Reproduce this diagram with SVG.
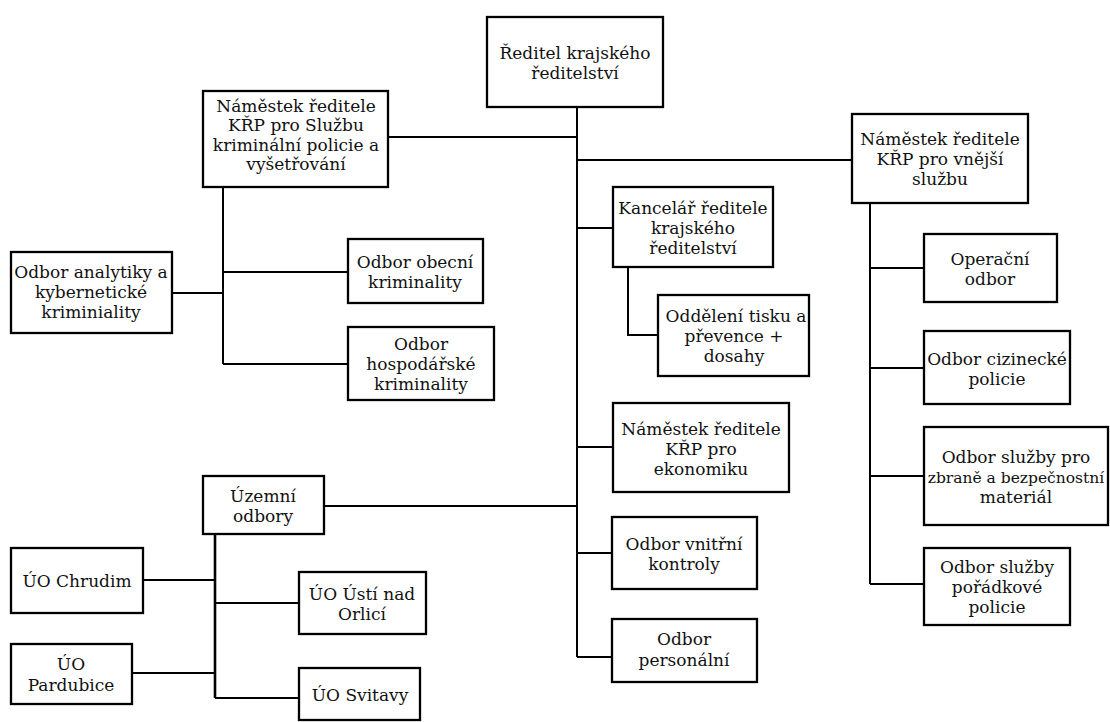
<svg xmlns="http://www.w3.org/2000/svg" width="1110" height="722" viewBox="0 0 1110 722">
<defs>
<style>
.b{fill:#fff;stroke:#000;stroke-width:2.3}
.t{font-family:'DejaVu Serif',serif;font-size:17px;fill:#111;text-anchor:middle}
.c{fill:none;stroke:#000;stroke-width:2}
</style>
</defs>
<rect width="1110" height="722" fill="#fff"/>
<g id="connectors">
<path class="c" d="M577,107 V657 M388,137 H577 M577,160 H852 M577,228 H613 M577,447 H613 M577,553 H612 M577,657 H612 M324,506 H577"/>
<path class="c" d="M223,187 V364 M172,293 H223 M223,272 H348 M223,364 H348"/>
<path class="c" d="M628,267 V335 H658"/>
<path class="c" d="M870,203 V584 M870,268 H924 M870,368 H924 M870,476 H924 M870,584 H924"/>
<path class="c" style="stroke-width:2.6" d="M215,534 V698"/>
<path class="c" d="M143,580 H215 M215,603 H299 M132,673 H215 M215,698 H299"/>
</g>
<g id="n-reditel"><rect class="b" x="487" y="17" width="176" height="90"/><text class="t"><tspan x="575" y="59">Ředitel krajského</tspan><tspan x="575" y="79">ředitelství</tspan></text></g>
<g id="n-skpv"><rect class="b" x="203" y="91" width="185" height="96"/><text class="t"><tspan x="296" y="112">Náměstek ředitele</tspan><tspan x="296" y="131">KŘP pro Službu</tspan><tspan x="296" y="151">kriminální policie a</tspan><tspan x="296" y="170">vyšetřování</tspan></text></g>
<g id="n-vnejsi"><rect class="b" x="852" y="114" width="176" height="89"/><text class="t"><tspan x="940" y="145">Náměstek ředitele</tspan><tspan x="940" y="165">KŘP pro vnější</tspan><tspan x="940" y="185">službu</tspan></text></g>
<g id="n-analytiky"><rect class="b" x="11" y="252" width="161" height="81"/><text class="t"><tspan x="91" y="278">Odbor analytiky a</tspan><tspan x="91" y="298">kybernetické</tspan><tspan x="91" y="318">kriminiality</tspan></text></g>
<g id="n-obecni"><rect class="b" x="348" y="239" width="135" height="64"/><text class="t"><tspan x="415" y="268">Odbor obecní</tspan><tspan x="415" y="288">kriminality</tspan></text></g>
<g id="n-hospodarske"><rect class="b" x="348" y="327" width="146" height="73"/><text class="t"><tspan x="421" y="350">Odbor</tspan><tspan x="421" y="370">hospodářské</tspan><tspan x="421" y="390">kriminality</tspan></text></g>
<g id="n-kancelar"><rect class="b" x="613" y="187" width="160" height="80"/><text class="t"><tspan x="693" y="214">Kancelář ředitele</tspan><tspan x="693" y="234">krajského</tspan><tspan x="693" y="254">ředitelství</tspan></text></g>
<g id="n-oddeleni"><rect class="b" x="658" y="295" width="151" height="81"/><text class="t"><tspan x="736" y="322">Oddělení tisku a</tspan><tspan x="734" y="342">převence +</tspan><tspan x="734" y="362">dosahy</tspan></text></g>
<g id="n-ekonomiku"><rect class="b" x="613" y="403" width="176" height="89"/><text class="t"><tspan x="701" y="435">Náměstek ředitele</tspan><tspan x="701" y="455">KŘP pro</tspan><tspan x="701" y="475">ekonomiku</tspan></text></g>
<g id="n-vnitrni"><rect class="b" x="612" y="517" width="145" height="72"/><text class="t"><tspan x="684" y="550">Odbor vnitřní</tspan><tspan x="684" y="570">kontroly</tspan></text></g>
<g id="n-personalni"><rect class="b" x="612" y="619" width="145" height="63"/><text class="t"><tspan x="684" y="645">Odbor</tspan><tspan x="684" y="666">personální</tspan></text></g>
<g id="n-operacni"><rect class="b" x="924" y="234" width="133" height="68"/><text class="t"><tspan x="990" y="265">Operační</tspan><tspan x="990" y="285">odbor</tspan></text></g>
<g id="n-cizinecke"><rect class="b" x="924" y="331" width="146" height="73"/><text class="t"><tspan x="997" y="365">Odbor cizinecké</tspan><tspan x="997" y="385">policie</tspan></text></g>
<g id="n-zbrane"><rect class="b" x="924" y="427" width="184" height="98"/><text class="t"><tspan x="1016" y="463">Odbor služby pro</tspan><tspan x="1016" y="483" style="font-size:15.5px">zbraně a bezpečnostní</tspan><tspan x="1016" y="503">materiál</tspan></text></g>
<g id="n-poradkove"><rect class="b" x="924" y="548" width="146" height="77"/><text class="t"><tspan x="997" y="573">Odbor služby</tspan><tspan x="997" y="593">pořádkové</tspan><tspan x="997" y="613">policie</tspan></text></g>
<g id="n-uzemni"><rect class="b" x="203" y="476" width="121" height="58"/><text class="t"><tspan x="263" y="502">Územní</tspan><tspan x="263" y="522">odbory</tspan></text></g>
<g id="n-chrudim"><rect class="b" x="11" y="548" width="132" height="65"/><text class="t" x="77" y="587">ÚO Chrudim</text></g>
<g id="n-usti"><rect class="b" x="299" y="572" width="127" height="62"/><text class="t"><tspan x="362" y="600">ÚO Ústí nad</tspan><tspan x="362" y="620">Orlicí</tspan></text></g>
<g id="n-pardubice"><rect class="b" x="11" y="644" width="121" height="60"/><text class="t"><tspan x="71" y="670">ÚO</tspan><tspan x="71" y="691">Pardubice</tspan></text></g>
<g id="n-svitavy"><rect class="b" x="299" y="668" width="121" height="52"/><text class="t" x="360" y="701">ÚO Svitavy</text></g>
</svg>
